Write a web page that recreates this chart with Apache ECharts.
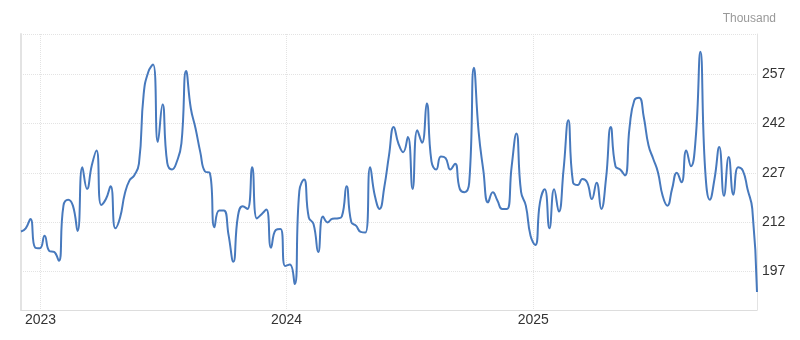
<!DOCTYPE html>
<html>
<head>
<meta charset="utf-8">
<script src="https://cdn.jsdelivr.net/npm/echarts@6/dist/echarts.min.js"></script>
<style>
  html, body { margin: 0; padding: 0; background: #fff; }
  #chart { width: 800px; height: 340px; }
</style>
</head>
<body>
<div id="chart"></div>
<script>
// Weekly values (thousand), week ending Saturdays, first week 2022-12-03
const firstWeek = [2022, 11, 3];
const claims = [
  209.1, 210.1, 212.9, 204.2, 204.0, 207.8, 203.2, 202.9, 200.2, 217.0,
  218.8, 217.0, 209.3, 228.7, 222.1, 229.2, 233.8, 217.2, 219.0, 222.9,
  210.1, 213.4, 220.6, 224.7, 226.2, 229.8, 251.0, 257.8, 260.0, 236.4,
  247.8, 230.0, 228.0, 230.3, 236.0, 258.0, 246.6, 240.5, 233.3, 227.4,
  227.0, 210.4, 215.5, 215.5, 208.0, 199.9, 214.0, 216.8, 216.0, 228.7,
  213.1, 214.4, 215.8, 204.2, 209.6, 209.9, 198.6, 199.1, 193.1, 221.5,
  225.0, 213.4, 211.4, 202.9, 213.7, 211.9, 213.0, 213.1, 213.7, 222.9,
  212.0, 210.9, 209.0, 208.8, 228.7, 220.0, 216.0, 222.6, 232.3, 241.0,
  235.9, 233.3, 237.9, 222.1, 240.0, 236.2, 248.1, 230.5, 228.0, 232.0,
  231.5, 228.0, 229.8, 222.1, 221.1, 224.0, 259.0, 239.5, 227.7, 218.0,
  221.1, 218.5, 216.0, 216.0, 229.0, 239.0, 221.1, 217.0, 207.8, 205.0,
  218.0, 222.0, 210.1, 222.0, 215.2, 228.0, 243.0, 224.1, 223.3, 225.1,
  224.1, 219.0, 224.0, 216.0, 225.2, 241.0, 229.0, 228.0, 226.2, 241.0,
  249.1, 249.9, 244.0, 235.4, 231.3, 227.2, 220.0, 217.0, 222.1, 227.0,
  224.1, 233.8, 229.0, 237.4, 263.9, 228.2, 218.8, 225.2, 234.9, 220.0,
  231.8, 220.3, 228.7, 227.7, 222.0, 216.0, 190.7
];
const yTickValues = [197, 212, 227, 242, 257];
const yearTicks = [2023, 2024, 2025];
const unitLabel = 'Thousand';
const yMin = 185.2, yMax = 269.3;

const DAY = 86400000;
const t0 = Date.UTC(firstWeek[0], firstWeek[1], firstWeek[2]);
const seriesData = claims.map((v, i) => [t0 + i * 7 * DAY, v]);
const tLast = seriesData[seriesData.length - 1][0];
const yearTickTimes = yearTicks.map(y => Date.UTC(y, 0, 1));

const chart = echarts.init(document.getElementById('chart'), null, { renderer: 'canvas' });
chart.setOption({
  animation: false,
  backgroundColor: '#ffffff',
  title: {
    text: unitLabel,
    right: 19, top: 8,
    textStyle: { fontFamily: 'Liberation Sans, Arial, sans-serif', fontSize: 12, fontWeight: 'normal', color: '#999999' }
  },
  grid: { left: 21, right: 43, top: 34, bottom: 30, containLabel: false },
  xAxis: {
    type: 'value',
    min: t0, max: tLast,
    axisLine: { show: true, lineStyle: { color: '#dddddd', width: 1 } },
    axisTick: { show: false, customValues: yearTickTimes },
    axisLabel: {
      customValues: yearTickTimes,
      formatter: v => String(new Date(v).getUTCFullYear()),
      fontFamily: 'Liberation Sans, Arial, sans-serif', fontSize: 14, color: '#333333', margin: 3
    },
    splitLine: { show: true, lineStyle: { color: '#e3e3e3', type: 'dotted', width: 1 } }
  },
  yAxis: [{
    type: 'value',
    position: 'right',
    min: yMin, max: yMax,
    axisLine: { show: true, lineStyle: { color: '#e3e3e3', width: 1 } },
    axisTick: { show: false, customValues: yTickValues.concat([yMax]) },
    axisLabel: {
      customValues: yTickValues,
      fontFamily: 'Liberation Sans, Arial, sans-serif', fontSize: 14, color: '#333333', margin: 5
    },
    splitLine: { show: true, lineStyle: { color: '#e3e3e3', type: 'dotted', width: 1 } }
  }, {
    type: 'value',
    position: 'left',
    min: yMin, max: yMax,
    axisLine: { show: true, lineStyle: { color: '#e3e3e3', width: 2 } },
    axisTick: { show: false },
    axisLabel: { show: false },
    splitLine: { show: false }
  }],
  series: [{
    type: 'line',
    data: seriesData,
    yAxisIndex: 0,
    showSymbol: false,
    symbol: 'none',
    smooth: 0.5,
    lineStyle: { color: '#4779bd', width: 2 },
    z: 5
  }]
});
</script>
</body>
</html>
